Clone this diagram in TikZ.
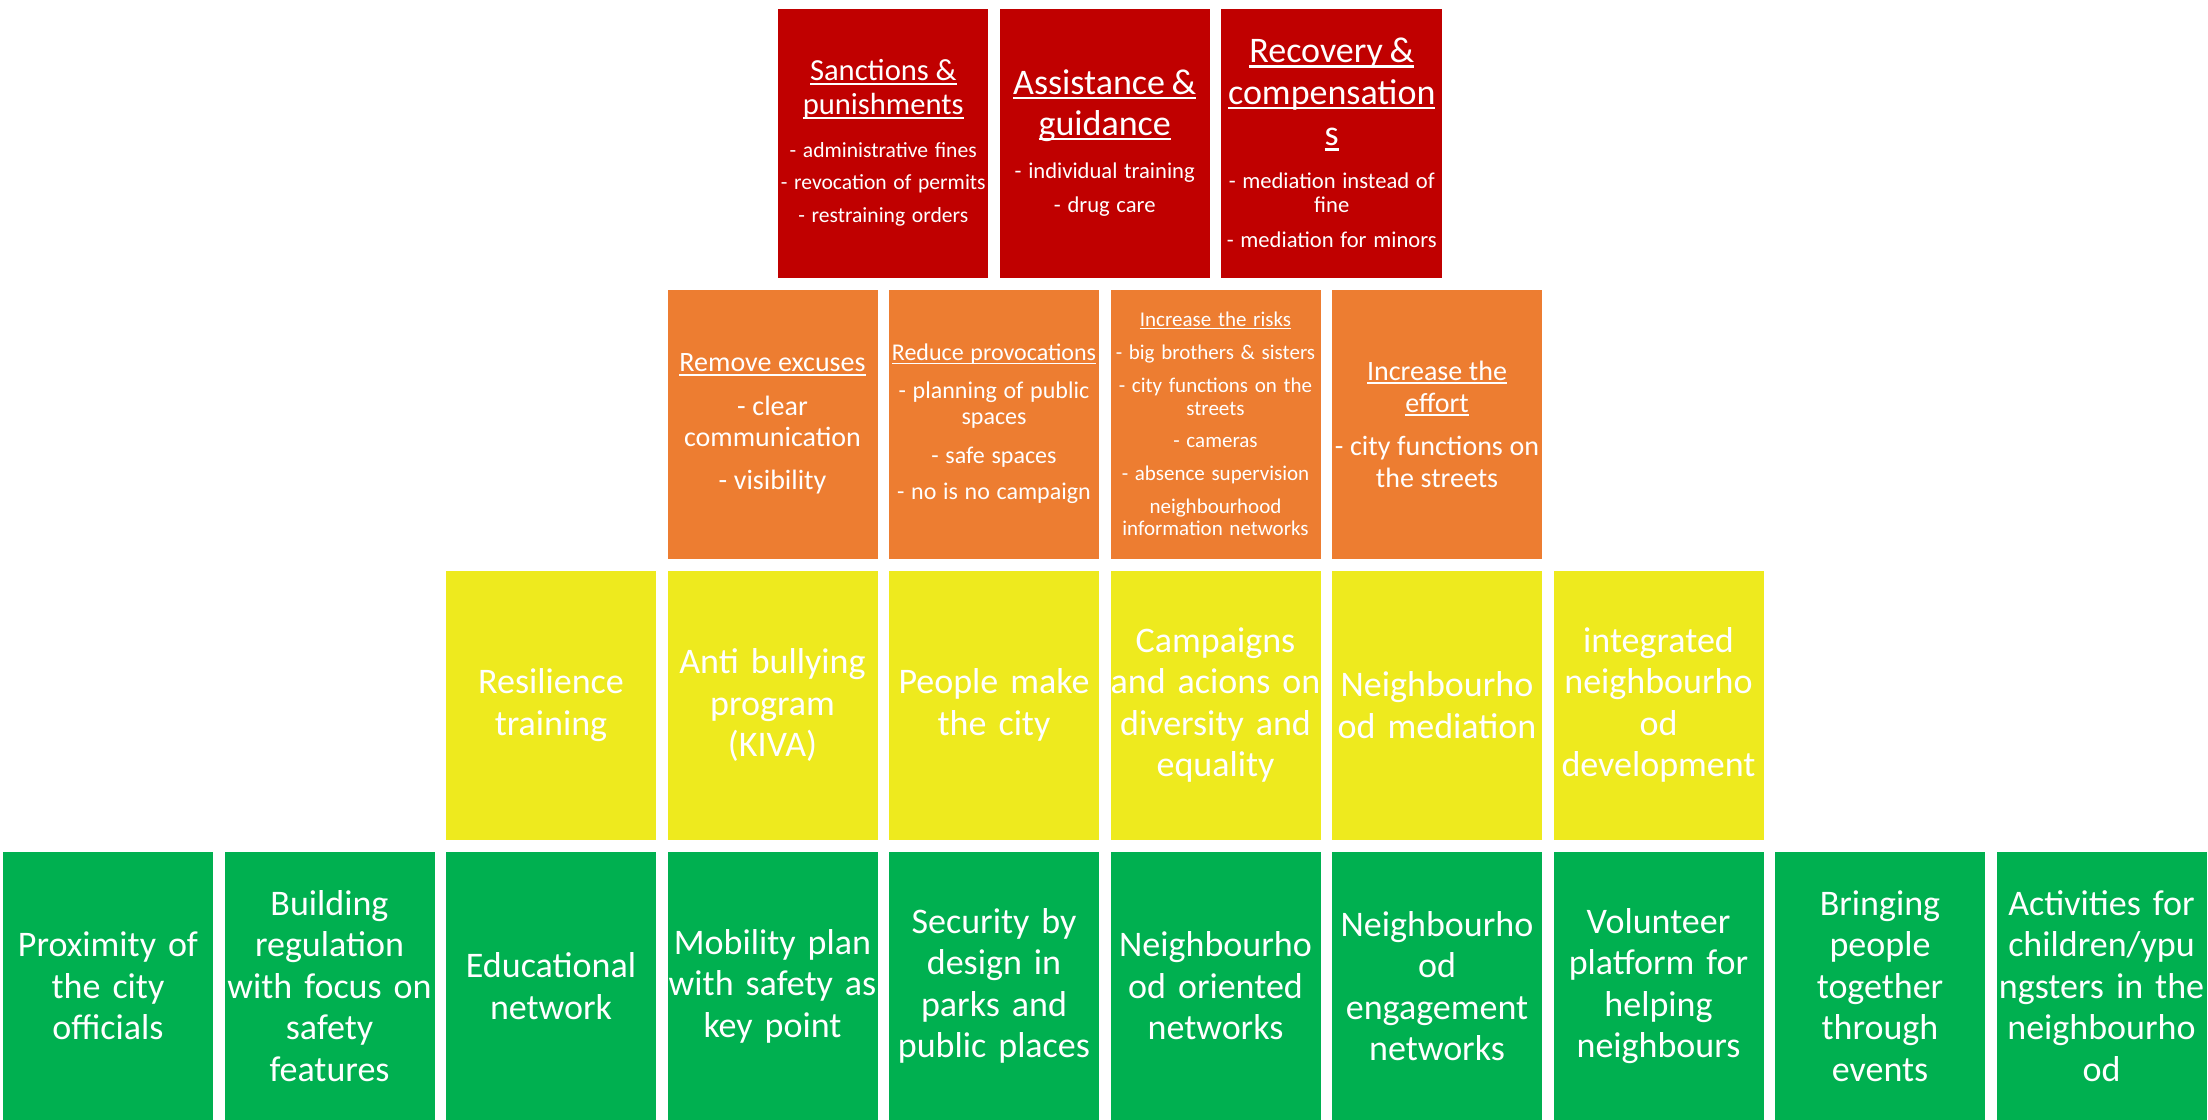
\documentclass[tikz,border=0pt]{standalone}
\usepackage{fontspec}
\setmainfont{Carlito}
\usetikzlibrary{positioning,calc}
\definecolor{sanctionred}{HTML}{C00000}
\definecolor{riskorange}{HTML}{ED7D31}
\definecolor{socialyellow}{HTML}{EEEA1E}
\definecolor{basegreen}{HTML}{00B050}
\newcommand{\tileul}[1]{\leavevmode\setbox0=\hbox{#1}\rlap{\raisebox{-0.14em}{\rule{\wd0}{0.065em}}}\box0}
\newcommand{\tilefont}{\fontsize{18}{20.75}\selectfont}

\begin{document}
\begin{tikzpicture}[node distance=6pt and 5.75pt,
    tile/.style={minimum width=105pt, minimum height=134.5pt, inner xsep=-4pt, inner ysep=0pt,
        outer sep=0pt, text width=113pt, align=center, text=white},
    greentile/.style={tile, fill=basegreen, font=\tilefont},
    yellowtile/.style={tile, fill=socialyellow, font=\tilefont},
    orangetile/.style={tile, fill=riskorange},
    redtile/.style={tile, fill=sanctionred}]
    \useasboundingbox (0,0) rectangle (1104pt,-560pt);
    \node[greentile] (proximity) at (54pt,-493pt) {Proximity of\\the city\\officials};
    \node[greentile, right=of proximity] (building) {Building\\regulation\\with focus on\\safety\\features};
    \node[greentile, right=of building] (education) {Educational\\network};
    \node[greentile, right=of education] (mobility) {Mobility plan\\with safety as\\key point};
    \node[greentile, right=of mobility] (security) {Security by\\design in\\parks and\\public places};
    \node[greentile, right=of security] (orientnet) {Neighbourho\\od oriented\\networks};
    \node[greentile, right=of orientnet] (engagenet) {Neighbourho\\od\\engagement\\networks};
    \node[greentile, right=of engagenet] (volunteer) {Volunteer\\platform for\\helping\\neighbours};
    \node[greentile, right=of volunteer] (events) {Bringing\\people\\together\\through\\events};
    \node[greentile, right=of events] (activities) {Activities for\\children/ypu\\ngsters in the\\neighbourho\\od};

    \node[yellowtile, above=of education] (resilience) {Resilience\\training};
    \node[yellowtile, above=of mobility] (antibully) {Anti bullying\\program\\(KIVA)};
    \node[yellowtile, above=of security] (peoplecity) {People make\\the city};
    \node[yellowtile, above=of orientnet] (diversity) {Campaigns\\and acions on\\diversity and\\equality};
    \node[yellowtile, above=of engagenet] (mediation) {Neighbourho\\od mediation};
    \node[yellowtile, above=of volunteer] (integrated) {integrated\\neighbourho\\od\\development};

    \node[orangetile, above=of antibully] (excuses) {\fontsize{14}{15.35}\selectfont
        \tileul{Remove excuses}\\[6.65pt]- clear\\communication\\[6.15pt]- visibility\par};
    \node[orangetile, above=of peoplecity] (provocations) {\fontsize{12}{13.3}\selectfont
        \tileul{Reduce provocations}\\[5.3pt]- planning of public\\spaces\\[6pt]- safe spaces\\[4.8pt]- no is no campaign\par};
    \node[orangetile, above=of diversity] (risks) {\fontsize{10.5}{11.3}\selectfont
        \tileul{Increase the risks}\\[5.2pt]- big brothers \& sisters\\[5.2pt]- city functions on the\\streets\\[4.8pt]- cameras\\[5.2pt]- absence supervision\\[5.2pt]neighbourhood\\information networks\par};
    \node[orangetile, above=of mediation] (effort) {\fontsize{14}{16}\selectfont
        \tileul{Increase the}\\\tileul{effort}\\[5.5pt]- city functions on\\the streets\par};

    \coordinate (topgap) at ($(excuses.north east)!0.5!(provocations.north west)$);
    \node[redtile, above=of topgap] (sanctions) {\fontsize{15.3}{17}\selectfont
        \tileul{Sanctions \&}\\\tileul{punishments}\par
        \vspace{9.5pt}\fontsize{10.8}{12}\selectfont
        - administrative fines\\[4pt]- revocation of permits\\[4.5pt]- restraining orders\par};
    \node[redtile, right=of sanctions] (assistance) {\fontsize{18}{20.5}\selectfont
        \tileul{Assistance \&}\\\tileul{guidance}\par
        \vspace{9.7pt}\fontsize{11.3}{12}\selectfont
        - individual training\\[5pt]- drug care\par};
    \node[redtile, right=of assistance, minimum width=110.5pt] (recovery) {\fontsize{18}{20.75}\selectfont
        \tileul{Recovery \&}\\\tileul{compensation}\\\tileul{s}\par
        \vspace{9.6pt}\fontsize{11.3}{12}\selectfont
        - mediation instead of\\fine\\[5.5pt]- mediation for minors\par};
\end{tikzpicture}
\end{document}
